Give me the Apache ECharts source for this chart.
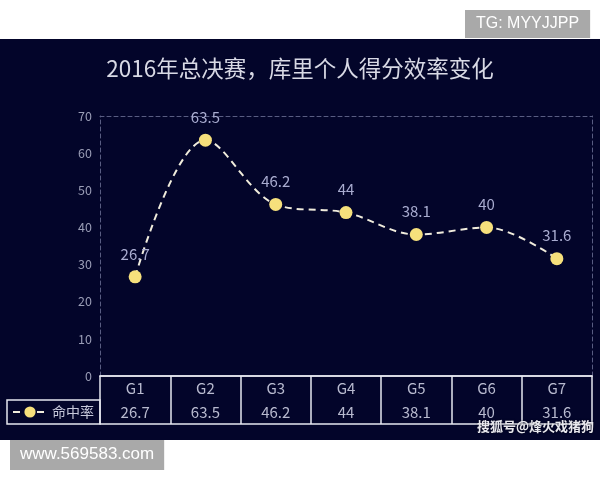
<!DOCTYPE html>
<html>
<head>
<meta charset="utf-8">
<script src="https://cdn.jsdelivr.net/npm/echarts@6/dist/echarts.min.js"></script>
<style>
html,body{margin:0;padding:0;background:#fff;}
#c{width:600px;height:480px;}
</style>
</head>
<body>
<div id="c"></div>
<script>
var titleText = '2016年总决赛，库里个人得分效率变化';
var categories = ['G1', 'G2', 'G3', 'G4', 'G5', 'G6', 'G7'];
var seriesName = '命中率';
var values = [26.7, 63.5, 46.2, 44, 38.1, 40, 31.6];
var yTicks = { min: 0, max: 70, interval: 10 };
var tagTop = 'TG: MYYJJPP';
var tagBottom = 'www.569583.com';
var watermark = '搜狐号@烽火戏猪狗';

var CJK = '"Noto Sans CJK SC", "Noto Sans", sans-serif';
var tableColor = '#e6e7f0';
var dashColor = '#595d82';
var labelColor = '#b8bacf';

var chart = echarts.init(document.getElementById('c'));
chart.setOption({
  backgroundColor: '#ffffff',
  animation: false,
  textStyle: { fontFamily: CJK },
  title: {
    text: titleText,
    left: 'center',
    top: 57,
    padding: 0,
    textStyle: { color: '#d8d9e5', fontSize: 22.5, fontWeight: 'normal', fontFamily: CJK }
  },
  legend: {
    left: 7,
    top: 400,
    padding: [5, 6, 5, 5],
    itemWidth: 34,
    itemHeight: 14,
    borderColor: tableColor,
    borderWidth: 1.5,
    textStyle: { color: '#c6c8da', fontSize: 14, fontFamily: CJK },
    data: [seriesName]
  },
  grid: { left: 100, right: 8, top: 116, bottom: 104 },
  xAxis: [
    {
      type: 'category', data: categories, position: 'bottom', boundaryGap: true,
      axisLine: { show: true, lineStyle: { color: tableColor, width: 1.5 } },
      axisTick: { show: true, length: 48, interval: 0, lineStyle: { color: tableColor, width: 1.5 } },
      axisLabel: { color: labelColor, fontSize: 15, margin: 5, fontFamily: CJK }
    },
    {
      type: 'category', data: values.map(String), position: 'bottom', offset: 24, boundaryGap: true,
      axisLine: { show: true, lineStyle: { color: tableColor, width: 1.5 } },
      axisTick: { show: false },
      axisLabel: { color: labelColor, fontSize: 15, margin: 5, fontFamily: CJK }
    },
    {
      type: 'category', data: categories, position: 'bottom', offset: 48, boundaryGap: true,
      axisLine: { show: true, lineStyle: { color: tableColor, width: 1.5 } },
      axisTick: { show: false },
      axisLabel: { show: false }
    },
    {
      type: 'category', data: categories, position: 'top', boundaryGap: true,
      axisLine: { show: true, lineStyle: { color: dashColor, width: 1, type: [4, 3] } },
      axisTick: { show: false },
      axisLabel: { show: false }
    }
  ],
  yAxis: [
    {
      type: 'value', min: yTicks.min, max: yTicks.max, interval: yTicks.interval,
      axisLine: { show: true, lineStyle: { color: dashColor, width: 1, type: [4, 3] } },
      axisTick: { show: false },
      splitLine: { show: false },
      axisLabel: { color: '#9a9db6', fontSize: 12.5, margin: 8, fontFamily: CJK }
    },
    {
      type: 'value', position: 'right', min: yTicks.min, max: yTicks.max, interval: yTicks.interval,
      axisLine: { show: true, lineStyle: { color: dashColor, width: 1, type: [4, 3] } },
      axisTick: { show: false },
      splitLine: { show: false },
      axisLabel: { show: false }
    }
  ],
  series: [{
    name: seriesName,
    type: 'line',
    xAxisIndex: 0,
    yAxisIndex: 0,
    data: values,
    smooth: 0.35,
    symbol: 'circle',
    symbolSize: 13,
    itemStyle: { color: '#f6e07c' },
    lineStyle: { color: '#f0ecdc', width: 2, type: [7, 5] },
    label: {
      show: true, position: 'top', distance: 9,
      color: '#a9acd0', fontSize: 15, fontFamily: CJK
    },
    z: 5
  }],
  graphic: [
    { type: 'rect', z: -10, silent: true, shape: { x: 0, y: 39, width: 600, height: 401 }, style: { fill: '#03052a' } },
    { type: 'text', z: 10, left: 465, top: 10,
      style: { text: tagTop, fill: '#ffffff', font: '16px "Liberation Sans", sans-serif', backgroundColor: '#a9a9a9', padding: [6, 11, 6, 11] } },
    { type: 'text', z: 10, left: 10, top: 440,
      style: { text: tagBottom, fill: '#ffffff', font: '17px "Liberation Sans", sans-serif', backgroundColor: '#a9a9a9', padding: [6, 10, 7, 10] } },
    { type: 'text', z: 10, left: 477, top: 420,
      style: { text: watermark, fill: '#e8e8ee', font: 'bold 13px "Noto Sans CJK SC", sans-serif', textShadowColor: 'rgba(0,0,0,0.6)', textShadowBlur: 2 } }
  ]
});
</script>
</body>
</html>
